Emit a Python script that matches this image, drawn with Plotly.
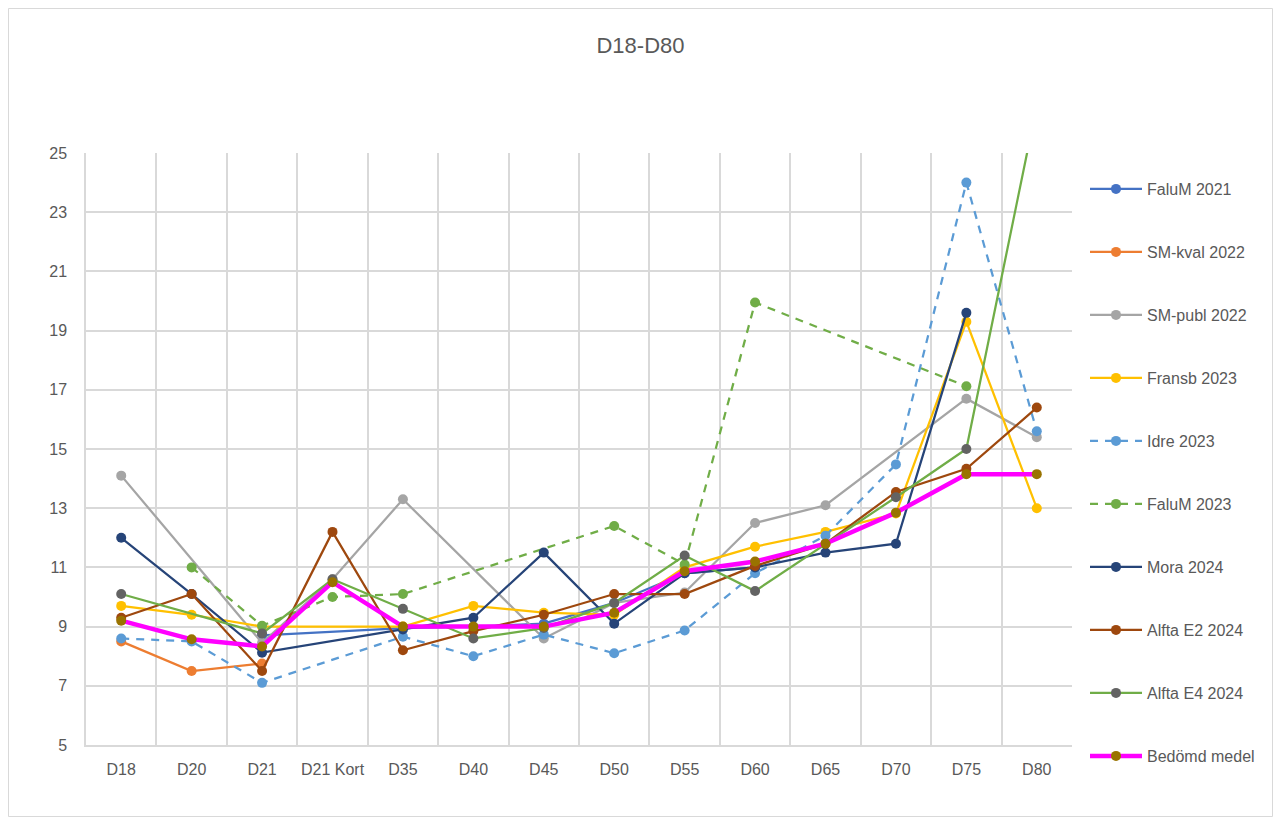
import plotly.graph_objects as go

categories = ["D18", "D20", "D21", "D21 Kort", "D35", "D40", "D45", "D50",
              "D55", "D60", "D65", "D70", "D75", "D80"]

falum_2021 = [None, None, 8.7, None, 8.95, 9.0, 9.1, 9.8, 10.8, 11.0, None, None, None, None]
sm_kval_2022 = [8.5, 7.5, 7.75, None, None, None, None, None, None, None, None, None, None, None]
sm_publ_2022 = [14.1, None, 8.45, 10.6, 13.3, None, 8.6, 9.8, 10.15, 12.5, 13.1, None, 16.7, 15.4]
fransb_2023 = [9.7, 9.4, 9.0, None, 9.0, 9.7, 9.47, 9.4, 11.0, 11.7, 12.2, 12.82, 19.3, 13.0]
idre_2023 = [8.6, 8.5, 7.1, None, 8.66, 8.0, 8.73, 8.1, 8.87, 10.8, 12.07, 14.48, 24.0, 15.6]
falum_2023 = [None, 11.0, 9.03, 10.0, 10.1, None, None, 12.4, 11.1, 19.95, None, None, 17.12, None]
mora_2024 = [12.0, 10.1, 8.12, None, 8.9, 9.3, 11.5, 9.1, 10.8, 11.0, 11.5, 11.8, 19.6, None]
alfta_e2_2024 = [9.3, 10.1, 7.5, 12.2, 8.2, 8.85, 9.4, 10.1, 10.1, 11.05, 11.8, 13.55, 14.33, 16.4]
alfta_e4_2024 = [10.1, None, 8.77, 10.6, 9.6, 8.6, 8.95, 9.8, 11.4, 10.2, None, 13.37, 15.0, 26.6]
bedomd_medel = [9.2, 8.57, 8.33, 10.5, 9.0, 9.0, 9.0, 9.47, 10.87, 11.2, 11.8, 12.85, 14.15, 14.15]

series = [
    ("FaluM 2021", falum_2021, "#4472C4", "#4472C4", "solid", 2.25),
    ("SM-kval 2022", sm_kval_2022, "#ED7D31", "#ED7D31", "solid", 2.25),
    ("SM-publ 2022", sm_publ_2022, "#A5A5A5", "#A5A5A5", "solid", 2.25),
    ("Fransb 2023", fransb_2023, "#FFC000", "#FFC000", "solid", 2.25),
    ("Idre 2023", idre_2023, "#5B9BD5", "#5B9BD5", "8px,7px", 2.25),
    ("FaluM 2023", falum_2023, "#70AD47", "#70AD47", "8px,7px", 2.25),
    ("Mora 2024", mora_2024, "#264478", "#264478", "solid", 2.25),
    ("Alfta E2 2024", alfta_e2_2024, "#9E480E", "#9E480E", "solid", 2.25),
    ("Alfta E4 2024", alfta_e4_2024, "#70AD47", "#636363", "solid", 2.25),
    ("Bedömd medel", bedomd_medel, "#FF00FF", "#997300", "solid", 4.5),
]

fig = go.Figure()
for name, vals, lc, mc, dash, lw in series:
    fig.add_trace(go.Scatter(
        x=categories, y=vals, name=name, mode="lines+markers",
        connectgaps=True, legendgroup=name,
        line=dict(color=lc, width=lw, dash=dash),
        marker=dict(color=mc, size=10, line=dict(width=0)),
    ))

# figure coordinates (page is offset by the 8px body margin)
W, H = 1265, 809
L, R, T, B = 78, 1064, 145, 737

def px_x(p):
    return (p - L) / (R - L)

def px_y(p):
    return (B - p) / (B - T)

fig.update_layout(
    width=W, height=H,
    margin=dict(l=L, r=W - R, t=T, b=H - B, autoexpand=False),
    paper_bgcolor="white", plot_bgcolor="white",
    font=dict(family="Liberation Sans", color="#595959", size=16),
    title=dict(text="D18-D80", x=0.5, xref="container", xanchor="center",
               y=1 - 37 / H, yref="container", yanchor="middle",
               font=dict(size=22, color="#595959")),
    showlegend=True,
    legend=dict(x=px_x(1077), xanchor="left", y=px_y(164), yanchor="top",
                tracegroupgap=39.2, traceorder="grouped", maxheight=800,
                font=dict(size=16, color="#595959"),
                itemwidth=52, bgcolor="rgba(0,0,0,0)"),
    xaxis=dict(type="category", range=[-0.5, 13.5], tickson="boundaries",
               showgrid=True, gridcolor="#d9d9d9", gridwidth=1.5,
               showline=True, linecolor="#d9d9d9", linewidth=1.5,
               ticks="", ticklabelstandoff=9, zeroline=False,
               tickangle=0, automargin=False,
               tickfont=dict(size=16, color="#595959")),
    yaxis=dict(range=[5, 25], dtick=2, tick0=5, showgrid=True,
               gridcolor="#d9d9d9", gridwidth=1.5,
               showline=True, linecolor="#d9d9d9", linewidth=1.5,
               ticks="", ticklabelstandoff=14, zeroline=False, automargin=False,
               tickfont=dict(size=16, color="#595959")),
    shapes=[dict(type="rect", xref="paper", yref="paper",
                 x0=px_x(0.5), x1=px_x(W - 0.5), y0=px_y(H - 0.5), y1=px_y(0.5),
                 line=dict(color="#d9d9d9", width=1), layer="below")],
)

fig.write_html("out.html")
